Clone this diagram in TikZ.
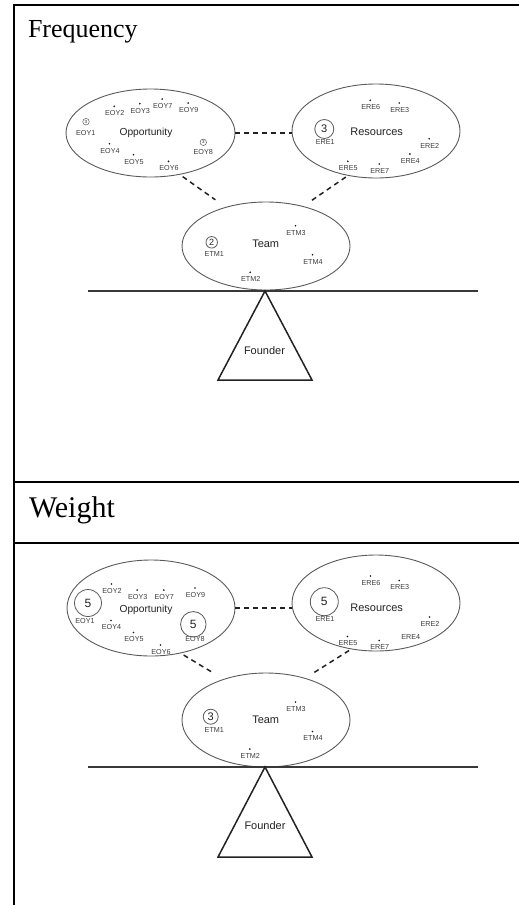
\documentclass[tikz,border=0pt]{standalone}
\usepackage{fontspec}
\setmainfont{Liberation Serif}
\newfontfamily\arial{Liberation Sans}
\usetikzlibrary{shapes.geometric,calc}

\definecolor{inkdark}{HTML}{222222}
\definecolor{ringgray}{HTML}{5A5A5A}
\definecolor{taggray}{HTML}{3C3C3C}
\definecolor{dotc}{HTML}{151515}

\tikzset{
  every node/.style={inner sep=0pt, outer sep=0pt},
  rule/.style={line width=2pt, draw=black},
  heading/.style={anchor=base west, text=black},
  blob/.style={ellipse, draw=ringgray, line width=0.9pt, inner sep=0pt},
  title/.style={font=\arial\fontsize{11}{11}\selectfont, text=inkdark},
  tag/.style={font=\arial\fontsize{7.2}{7.2}\selectfont, text=taggray},
  ring/.style={circle, draw=ringgray, line width=0.8pt, inner sep=0pt, text=inkdark},
  link/.style={draw=inkdark, line width=1.5pt, dash pattern=on 5pt off 4pt},
  beam/.style={draw=inkdark!90, line width=1.3pt},
  fulcrum/.style={draw=inkdark, line width=1.5pt, line join=miter},
}

% label with a small dot just above it
\newcommand\tagdot[4]{%
  \node[tag] (#1) at (#2,#3) {#4};
  \fill[dotc] ($(#1.center)+(-0.5,-7)$) circle (0.95pt);}

\begin{document}
\begin{tikzpicture}[x=1pt, y=-1pt]
\useasboundingbox (0,0) rectangle (519,905);

% ---- table frame ----
\draw[rule, line join=miter] (519,5) -- (14,5) -- (14,905);
\draw[rule] (14,482) -- (519,482);
\draw[rule] (14,543) -- (519,543);
\node[heading, font=\fontsize{26}{26}\selectfont] (hdr-f) at (28,37.5) {Frequency};
\node[heading, font=\fontsize{30}{30}\selectfont] (hdr-w) at (29,517) {Weight};

% =================== Frequency panel ===================
\node[blob, minimum width=169pt, minimum height=88pt] (f-opp) at (150.5,133) {};
\node[blob, minimum width=168pt, minimum height=94pt] (f-res) at (376,131) {};
\node[blob, minimum width=168pt, minimum height=88pt] (f-team) at (266,246) {};

\node[title, font=\arial\fontsize{10.2}{10.2}\selectfont] (f-opp-t) at (146,132.7) {Opportunity};
\node[title] (f-res-t) at (376.7,131.7) {Resources};
\node[title] (f-team-t) at (265.7,243.3) {Team};

\draw[link] (f-opp.east) -- (f-opp.east -| f-res.west);
\draw[link, shorten <=4pt, shorten >=13pt] (f-opp.-55) -- (f-team.136.4);
\draw[link, shorten <=3pt, shorten >=11pt] (f-res.-122.7) -- (f-team.47.1);

% opportunity items
\tagdot{f-eoy2}{114.7}{113.3}{EOY2}
\tagdot{f-eoy3}{140.3}{110.7}{EOY3}
\tagdot{f-eoy7}{162.7}{106}{EOY7}
\tagdot{f-eoy9}{188.7}{110}{EOY9}
\tagdot{f-eoy4}{110}{150.7}{EOY4}
\tagdot{f-eoy5}{134}{161.7}{EOY5}
\tagdot{f-eoy6}{169}{168.3}{EOY6}
\node[tag] (f-eoy1) at (85.7,133.3) {EOY1};
\node[ring, minimum size=6.5pt, line width=0.5pt, font=\arial\fontsize{4.5}{4.5}\selectfont] (f-eoy1-n) at (86,121.7) {3};
\node[tag] (f-eoy8) at (203.3,151.7) {EOY8};
\node[ring, minimum size=6.5pt, line width=0.5pt, font=\arial\fontsize{4.5}{4.5}\selectfont] (f-eoy8-n) at (203.3,142.3) {3};

% resources items
\tagdot{f-ere6}{370.7}{107.3}{ERE6}
\tagdot{f-ere3}{399.7}{110}{ERE3}
\tagdot{f-ere2}{429.7}{145.7}{ERE2}
\tagdot{f-ere4}{410.3}{161}{ERE4}
\tagdot{f-ere5}{348.3}{168.3}{ERE5}
\tagdot{f-ere7}{379.7}{171}{ERE7}
\node[tag] (f-ere1) at (325.3,142.3) {ERE1};
\node[ring, minimum size=19pt, font=\arial\fontsize{11}{11}\selectfont] (f-ere1-n) at (324.3,129) {3};

% team items
\tagdot{f-etm3}{296}{232.7}{ETM3}
\tagdot{f-etm4}{313}{261.7}{ETM4}
\tagdot{f-etm2}{250.7}{279.3}{ETM2}
\node[tag] (f-etm1) at (214.3,254) {ETM1};
\node[ring, minimum size=11.5pt, font=\arial\fontsize{9}{9}\selectfont] (f-etm1-n) at (211.7,242.3) {2};

% seesaw
\coordinate (f-beamL) at (88,291);
\coordinate (f-beamR) at (478,291);
\coordinate (f-pivot) at (265,291);
\coordinate (f-baseL) at (218,380);
\coordinate (f-baseR) at (312,380);
\draw[beam] (f-beamL) -- (f-beamR);
\draw[fulcrum] (f-pivot) -- (f-baseL) -- (f-baseR) -- cycle;
\node[title] (f-founder) at (264.5,350.7) {Founder};

% =================== Weight panel ===================
\node[blob, minimum width=168pt, minimum height=96pt] (w-opp) at (151,608) {};
\node[blob, minimum width=168pt, minimum height=96pt] (w-res) at (376,603) {};
\node[blob, minimum width=168pt, minimum height=94pt] (w-team) at (266,720) {};

\node[title, font=\arial\fontsize{10.2}{10.2}\selectfont] (w-opp-t) at (146,610) {Opportunity};
\node[title] (w-res-t) at (376.7,608) {Resources};
\node[title] (w-team-t) at (265.7,720) {Team};

\draw[link] (w-opp.east) -- (w-opp.east -| w-res.west);
\draw[link, shorten <=4pt, shorten >=11pt] (w-opp.-57) -- (w-team.136.4);
\draw[link, shorten <=3pt, shorten >=10pt] (w-res.-118) -- (w-team.47.1);

% opportunity items
\tagdot{w-eoy2}{112}{591}{EOY2}
\tagdot{w-eoy3}{137.7}{597}{EOY3}
\tagdot{w-eoy7}{164.3}{597}{EOY7}
\tagdot{w-eoy9}{195.5}{595}{EOY9}
\tagdot{w-eoy4}{111.5}{627.5}{EOY4}
\tagdot{w-eoy5}{134}{639.5}{EOY5}
\tagdot{w-eoy6}{161}{652}{EOY6}
\node[tag] (w-eoy1) at (85,621) {EOY1};
\node[ring, minimum size=27pt, font=\arial\fontsize{12}{12}\selectfont] (w-eoy1-n) at (88,603) {5};
\node[tag] (w-eoy8) at (195,639.5) {EOY8};
\node[ring, minimum size=25.5pt, font=\arial\fontsize{12}{12}\selectfont] (w-eoy8-n) at (193.3,624.3) {5};

% resources items
\tagdot{w-ere6}{371}{583}{ERE6}
\tagdot{w-ere3}{399.7}{587.5}{ERE3}
\tagdot{w-ere2}{430}{624}{ERE2}
\node[tag] (w-ere4) at (410.7,637) {ERE4};
\tagdot{w-ere5}{348}{643.5}{ERE5}
\tagdot{w-ere7}{379.7}{647.5}{ERE7}
\node[tag] (w-ere1) at (325,619) {ERE1};
\node[ring, minimum size=28pt, font=\arial\fontsize{12}{12}\selectfont] (w-ere1-n) at (324.3,601.7) {5};

% team items
\tagdot{w-etm3}{296}{709}{ETM3}
\tagdot{w-etm4}{313}{738.5}{ETM4}
\tagdot{w-etm2}{250.3}{756}{ETM2}
\node[tag] (w-etm1) at (214.3,730) {ETM1};
\node[ring, minimum size=15pt, font=\arial\fontsize{11}{11}\selectfont] (w-etm1-n) at (210.7,716.7) {3};

% seesaw
\coordinate (w-beamL) at (88,767);
\coordinate (w-beamR) at (478,767);
\coordinate (w-pivot) at (265,767);
\coordinate (w-baseL) at (218,857);
\coordinate (w-baseR) at (312,857);
\draw[beam] (w-beamL) -- (w-beamR);
\draw[fulcrum] (w-pivot) -- (w-baseL) -- (w-baseR) -- cycle;
\node[title] (w-founder) at (265,826) {Founder};

\end{tikzpicture}
\end{document}
